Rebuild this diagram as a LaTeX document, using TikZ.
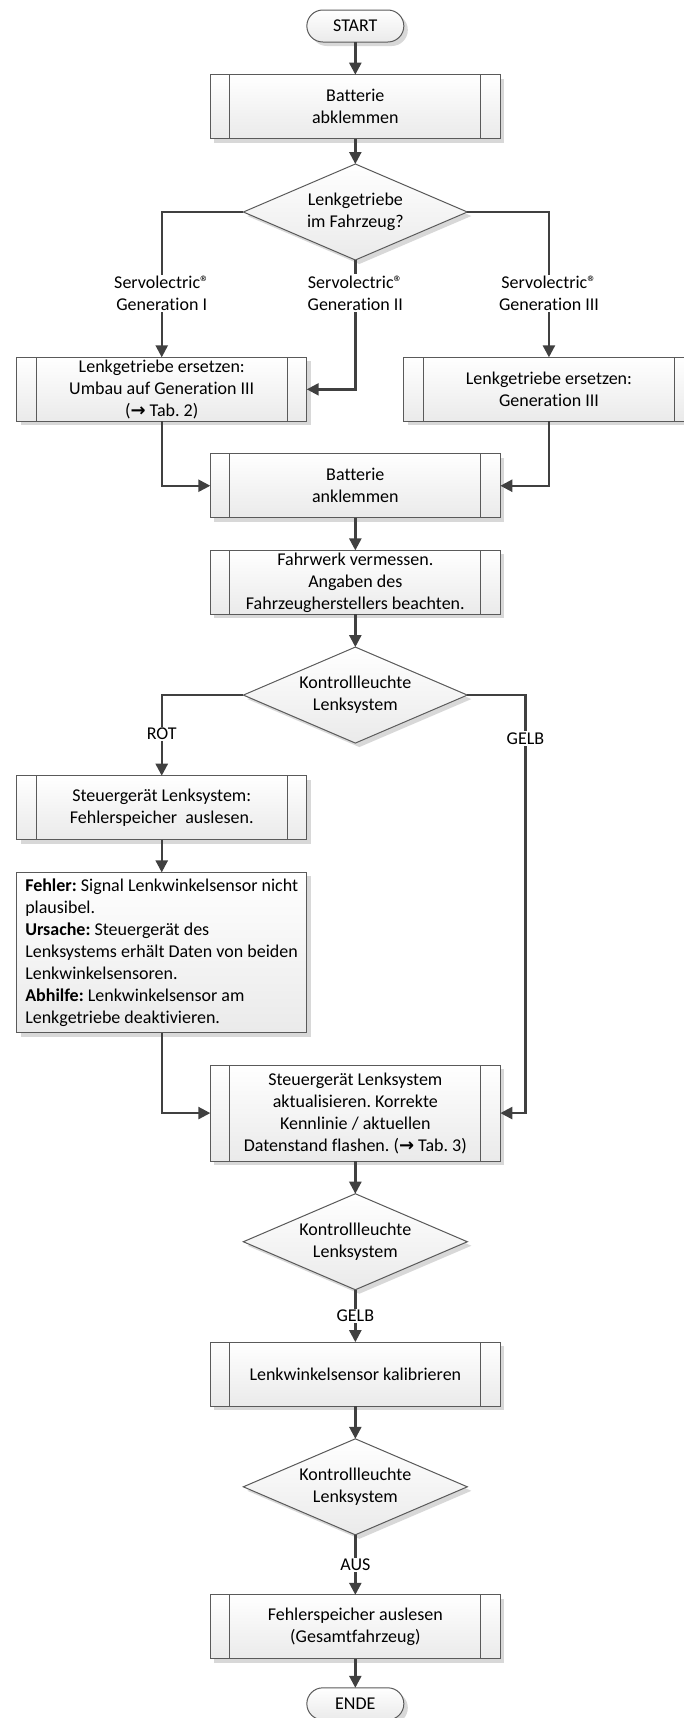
\documentclass[tikz,border=0pt]{standalone}
\usepackage{fontspec}
\setmainfont{Carlito}[Ligatures=NoCommon]
\newfontfamily\symfont{DejaVu Sans}
\usetikzlibrary{positioning,calc,shapes,arrows.meta,shadows}
\definecolor{myline}{RGB}{64,64,64}
\definecolor{myborder}{RGB}{90,90,90}
\definecolor{myshade}{RGB}{234,234,234}
\definecolor{myshadow}{RGB}{216,216,216}
\frenchspacing
\newcommand{\boxfont}{\fontsize{13.5pt}{16.5pt}\selectfont}
\newcommand{\tabref}[1]{({\symfont\bfseries →}~Tab.~#1)}
\tikzstyle{base}=[draw=myborder,line width=0.75pt,top color=white,bottom color=myshade,drop shadow={shadow xshift=3pt,shadow yshift=-3pt,fill=myshadow,opacity=1},font=\boxfont,align=center,outer sep=0pt]
\tikzstyle{process}=[base,rectangle,minimum width=217.5pt,minimum height=48pt,inner xsep=2pt,inner ysep=0pt,
  path picture={\draw[myborder,line width=0.75pt] ([xshift=14.6pt]path picture bounding box.north west) -- ([xshift=14.6pt]path picture bounding box.south west)
    ([xshift=-14.6pt]path picture bounding box.north east) -- ([xshift=-14.6pt]path picture bounding box.south east);}]
\tikzstyle{decision}=[base,diamond,aspect=2.33,minimum width=168pt,minimum height=72pt,inner sep=0pt]
\tikzstyle{terminal}=[base,rectangle,rounded corners=12pt,minimum width=72.75pt,minimum height=24pt,inner sep=0pt]
\tikzstyle{note}=[base,rectangle,align=left,minimum width=217.5pt,minimum height=120.3pt,inner sep=1pt]
\tikzstyle{lbl}=[fill=white,font=\boxfont,align=center,inner sep=1pt]
\tikzstyle{arr}=[-{Triangle[length=9pt,width=9pt]},draw=myline,line width=1.8pt]

\begin{document}
\begin{tikzpicture}[node distance=24.5pt]
  \useasboundingbox (0,0) rectangle (513pt,-1288.5pt);
  \node (S0) [terminal] at (266.5pt,-19.5pt) {START};
  \node (B1) [process,below=of S0] {Batterie\\abklemmen};
  \node (D1) [decision,below=19pt of B1] {Lenkgetriebe\\im Fahrzeug?};
  \node (L1) [process,below=73pt of D1,xshift=-145.2pt] {Lenkgetriebe ersetzen:\\Umbau auf Generation III\\\tabref{2}};
  \node (R1) [process,below=73pt of D1,xshift=145.2pt] {Lenkgetriebe ersetzen:\\Generation III};
  \node (B2) [process,below=145.3pt of D1] {Batterie\\anklemmen};
  \node (B3) [process,below=of B2] {Fahrwerk vermessen.\\Angaben des\\Fahrzeugherstellers beachten.};
  \node (D2) [decision,below=of B3] {Kontrollleuchte\\Lenksystem};
  \node (L2) [process,below=of D2,xshift=-145.2pt] {Steuergerät Lenksystem:\\Fehlerspeicher\ \ auslesen.};
  \node (F2) [note,below=of L2] {\textbf{Fehler:} Signal Lenkwinkelsensor nicht\\plausibel.\\\textbf{Ursache:} Steuergerät des\\Lenksystems erhält Daten von beiden\\Lenkwinkelsensoren.\\\textbf{Abhilfe:} Lenkwinkelsensor am\\Lenkgetriebe deaktivieren.};
  \node (B4) [process,minimum height=72pt,below=241.5pt of D2] {Steuergerät Lenksystem\\aktualisieren. Korrekte\\Kennlinie / aktuellen\\Datenstand flashen. \tabref{3}};
  \node (D3) [decision,below=of B4] {Kontrollleuchte\\Lenksystem};
  \node (B5) [process,below=39.3pt of D3] {Lenkwinkelsensor kalibrieren};
  \node (D4) [decision,below=of B5] {Kontrollleuchte\\Lenksystem};
  \node (B6) [process,below=45pt of D4] {Fehlerspeicher auslesen\\(Gesamtfahrzeug)};
  \node (E0) [terminal,below=21.75pt of B6] {ENDE};
  \coordinate (G1) at ($(D2.east)+(43.6pt,0)$);

  \draw[arr] (S0) -- (B1);
  \draw[arr] (B1) -- (D1);
  \draw[arr] (D1.west) -| node[lbl,pos=0.78] {Servolectric®\\Generation I} (L1.north);
  \draw[arr] (D1.south) |- node[lbl,pos=0.128] {Servolectric®\\Generation II} (L1.east);
  \draw[arr] (D1.east) -| node[lbl,pos=0.78] {Servolectric®\\Generation III} (R1.north);
  \draw[arr] (L1.south) |- (B2.west);
  \draw[arr] (R1.south) |- (B2.east);
  \draw[arr] (B2) -- (B3);
  \draw[arr] (B3) -- (D2);
  \draw[arr] (D2.west) -| node[lbl,pos=0.74] {ROT} (L2.north);
  \draw[arr] (D2.east) -- (G1) |- node[lbl,pos=0.052] {GELB} (B4.east);
  \draw[arr] (L2) -- (F2);
  \draw[arr] (F2.south) |- (B4.west);
  \draw[arr] (B4) -- (D3);
  \draw[arr] (D3) -- node[lbl] {GELB} (B5);
  \draw[arr] (B5) -- (D4);
  \draw[arr] (D4) -- node[lbl] {AUS} (B6);
  \draw[arr] (B6) -- (E0);
\end{tikzpicture}
\end{document}
